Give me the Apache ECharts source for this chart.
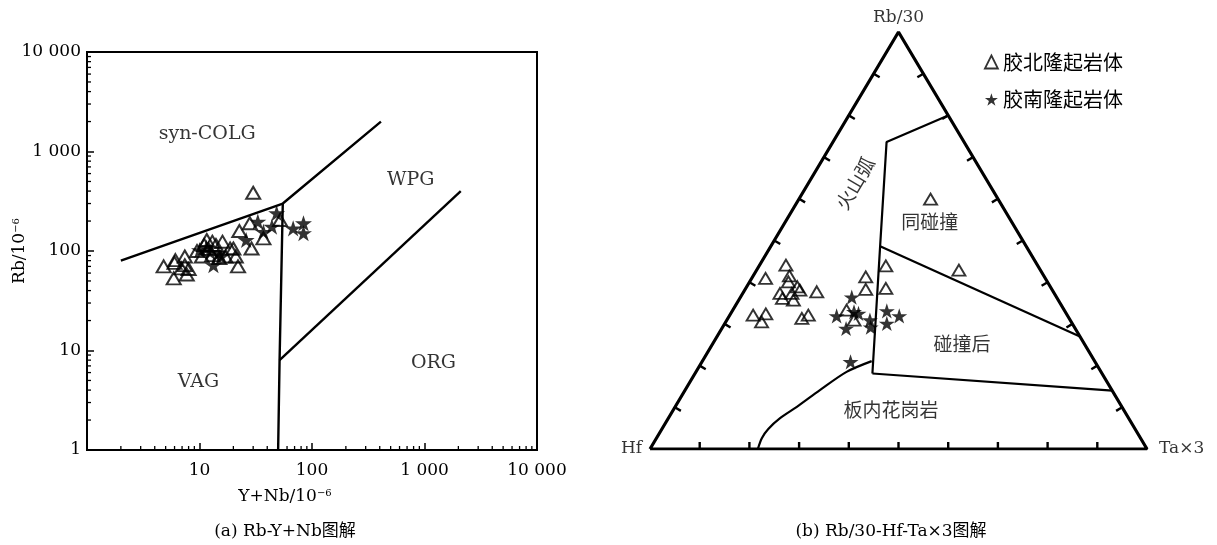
<!DOCTYPE html>
<html><head><meta charset="utf-8">
<script src="https://cdn.jsdelivr.net/npm/echarts@6/dist/echarts.min.js"></script>
<style>html,body{margin:0;padding:0;background:#fff}#c{width:1217px;height:545px}</style>
</head><body><div id="c"></div>
<script>
// ===== Panel (a): Rb vs (Y+Nb), ppm =====
// [Y+Nb, Rb]
const jbA = [[30,385],[28,190],[22.6,159],[29,106],[37,134],[52,205],[22,70],[17,88],[21,88],[20,106],
  [16,124],[13,124],[11,115],[14,115],[10.5,88],[13,91],[15,85],[4.8,70],[6,76],[7.4,72],
  [5.9,53],[7.7,58],[6.1,81],[7.4,88],[6.9,67],[8,66],[18.7,106],[11.6,129],[9.5,100],[12,105]];
const jnA = [[48.5,240],[33,197],[37,156],[44,176],[26,129],[68,169],[84,190],[84,151],
  [10,102],[12.4,98],[14.7,95],[13.3,72],[11.5,108],[15.5,88]];
const aLineColg = [[2,80],[55,300],[410,2000]];
const aLineVert = [[55,300],[51.5,8],[50,1]];
const aLineOrg = [[51.5,8],[2100,400]];
const aRegions = [['syn-COLG',11.7,1500],['WPG',755,520],['VAG',9.8,4.8],['ORG',1200,7.5]];
const aMinorTicks = [2,3,4,5,6,7,8,9,20,30,40,50,60,70,80,90,200,300,400,500,600,700,800,900,2000,3000,4000,5000,6000,7000,8000,9000];

// ===== Panel (b): Rb/30 - Hf - Ta×3 ternary, % [Hf, Ta×3, Rb/30] =====
const jbB = [[50.6,5.3,44.1],[56.3,2.8,40.9],[51.2,7.3,41.5],[52.1,7.8,40.1],[50.9,10.2,38.9],[50.8,11.1,38.1],
  [55.2,7.5,37.3],[55.3,8.6,36.1],[52.8,9.9,37.3],[53.3,11.0,35.7],[47.6,14.7,37.7],[63.2,4.7,32.1],
  [60.5,7.1,32.4],[62.3,7.2,30.5],[53.8,14.9,31.3],[52.1,15.8,32.1],[36.0,22.8,41.3],[37.5,24.3,38.3],
  [43.8,22.9,33.3],[43.5,25.6,30.9],[30.6,25.5,43.9],[33.3,28.2,38.5],[16.4,40.7,42.9],[13.6,26.5,59.9]];
const jnB = [[41.2,22.4,36.4],[46.5,21.6,31.9],[42.5,24.6,32.9],[41.8,25.7,32.5],[46.1,25.0,28.9],[40.3,28.8,30.9],
  [41.0,29.8,29.2],[35.8,31.1,33.1],[37.3,32.6,30.1],[33.9,34.2,31.9],[49.2,29.9,20.9]];
const bLineArc = [[0,20,80],[15.6,10.8,73.6],[29.4,22,48.6],[46.2,35.7,18.1]];
const bLinePost = [[29.4,22,48.6],[0,73,27]];
const bLineWpg = [[46.2,35.7,18.1],[0,86,14]];
const bLineCurve = [[44.9,34.1,21.1],[51.2,30.3,18.5],[58.7,27.1,14.1],[65.4,24.5,10.1],[70.2,22.5,7.4],[73.8,21.4,4.8],[76.2,21.2,2.6],[78.3,21.7,0]];
const bRegions = [['火山弧',26.9,9.4,63.7,59.5],['同碰撞',16.5,29.1,54.4,0],['碰撞后',24.6,50.2,25.2,0],['板内花岗岩',46.8,43.8,9.4,0]];
const bTickFracs = [0.1,0.2,0.3,0.4,0.5,0.6,0.7,0.8,0.9];
const bVertices = [['Hf',100,0,0,'left',8],['Ta×3',0,100,0,'right',12],['Rb/30',0,0,100,'top',6]];
const seriesNames = ['胶北隆起岩体','胶南隆起岩体'];

const STAR = 'path://M0,-10L2.245,-3.09L9.511,-3.09L3.633,1.18L5.878,8.09L0,3.82L-5.878,8.09L-3.633,1.18L-9.511,-3.09L-2.245,-3.09Z';
const SERIF = '"DejaVu Serif", "Noto Sans CJK SC", serif';
const CJK = '"Noto Sans CJK SC", sans-serif';
const INK = '#000';

function tern(p){ const s=p[0]+p[1]+p[2]; const ta=p[1]/s, rb=p[2]/s; return [ta+rb/2, rb]; }
function fmtNum(v){ return String(v).replace(/\B(?=(\d{3})+(?!\d))/g,' '); }

const chart = echarts.init(document.getElementById('c'), null, {renderer:'canvas'});

const blackLine = (data, xi, w) => ({type:'line', xAxisIndex:xi, yAxisIndex:xi, data, symbol:'none', silent:true,
  lineStyle:{color:'#000', width:w}, z:3});

const tickData = [];
[0,1,2].forEach(e => bTickFracs.forEach(t => tickData.push([t, e])));

const option = {
  animation:false,
  backgroundColor:'#fff',
  grid:[
    {left:87, top:52, width:450, height:398, show:true, borderColor:'#000', borderWidth:2, backgroundColor:'transparent'},
    {left:650, top:32, width:497, height:417, show:false}
  ],
  xAxis:[
    {type:'log', gridIndex:0, logBase:10, min:1, max:10000,
      axisLine:{show:true, lineStyle:{color:'#000', width:2}},
      axisTick:{show:true, inside:true, length:7, lineStyle:{color:'#000', width:1.5}},
      splitLine:{show:false},
      axisLabel:{fontFamily:SERIF, fontSize:17, color:INK, margin:12, formatter:v => v===1 ? '' : fmtNum(v)},
      name:'Y+Nb/10{s|−6}', nameLocation:'middle', nameGap:38, nameMoveOverlap:false,
      nameTextStyle:{fontFamily:SERIF, fontSize:17, color:INK, padding:[0,54,0,0],
        rich:{s:{fontFamily:SERIF, fontSize:10, color:INK, verticalAlign:'top', padding:[0,0,6,0]}}}},
    {type:'value', gridIndex:1, min:0, max:1, show:false}
  ],
  yAxis:[
    {type:'log', gridIndex:0, logBase:10, min:1, max:10000,
      axisLine:{show:true, lineStyle:{color:'#000', width:2}},
      axisTick:{show:true, inside:true, length:7, lineStyle:{color:'#000', width:1.5}},
      splitLine:{show:false},
      axisLabel:{fontFamily:SERIF, fontSize:17, color:INK, margin:6, formatter:v => fmtNum(v)},
      name:'Rb/10{s|−6}', nameLocation:'middle', nameGap:59, nameMoveOverlap:false,
      nameTextStyle:{fontFamily:SERIF, fontSize:17, color:INK,
        rich:{s:{fontFamily:SERIF, fontSize:10, color:INK, verticalAlign:'top', padding:[0,0,6,0]}}}},
    {type:'value', gridIndex:1, min:0, max:1, show:false}
  ],
  legend:{
    orient:'vertical', left:979, top:47, itemWidth:13, itemHeight:13, itemGap:17.5, selectedMode:false,
    textStyle:{fontFamily:CJK, fontSize:20, color:INK},
    data:[
      {name:seriesNames[0], icon:'triangle', itemStyle:{color:'rgba(0,0,0,0)', borderColor:'#000', borderWidth:1.8}},
      {name:seriesNames[1], icon:STAR, itemStyle:{color:'#000', borderWidth:0}}
    ]
  },
  graphic:[
    {type:'text', x:285, y:532, silent:true, style:{text:'(a) Rb-Y+Nb图解', font:'17px '+SERIF, fill:INK, align:'center', verticalAlign:'middle'}},
    {type:'text', x:891, y:532, silent:true, style:{text:'(b) Rb/30-Hf-Ta×3图解', font:'17px '+SERIF, fill:INK, align:'center', verticalAlign:'middle'}}
  ],
  series:[
    // ---- panel (a) ----
    {type:'custom', xAxisIndex:0, yAxisIndex:0, silent:true, data:aMinorTicks.map(v=>[v,v]), z:4,
      renderItem:(params, api) => {
        const v = api.value(0);
        const bx = api.coord([v, 1]);
        const ly = api.coord([1, v]);
        return {type:'group', children:[
          {type:'line', shape:{x1:bx[0], y1:bx[1], x2:bx[0], y2:bx[1]-4}, style:{stroke:'#000', lineWidth:1.3}},
          {type:'line', shape:{x1:ly[0], y1:ly[1], x2:ly[0]+4, y2:ly[1]}, style:{stroke:'#000', lineWidth:1.3}}
        ]};
      }},
    blackLine(aLineColg, 0, 2.4),
    blackLine(aLineVert, 0, 2.4),
    blackLine(aLineOrg, 0, 2.4),
    {type:'scatter', name:seriesNames[0], xAxisIndex:0, yAxisIndex:0, data:jbA, symbol:'triangle', symbolSize:[14,12],
      itemStyle:{color:'rgba(0,0,0,0)', borderColor:'#000', borderWidth:2}, z:5, silent:true},
    {type:'scatter', name:seriesNames[1], xAxisIndex:0, yAxisIndex:0, data:jnA, symbol:STAR, symbolSize:17, symbolKeepAspect:true,
      itemStyle:{color:'#000'}, z:6, silent:true},
    {type:'scatter', xAxisIndex:0, yAxisIndex:0, symbolSize:0, silent:true, z:7,
      data:aRegions.map(r => ({name:r[0], value:[r[1], r[2]]})),
      label:{show:true, position:'inside', formatter:'{b}', fontFamily:SERIF, fontSize:19, color:INK}},
    // ---- panel (b) ----
    blackLine([bVertices[0], bVertices[1], bVertices[2], bVertices[0]].map(v => tern([v[1],v[2],v[3]])), 1, 3.2),
    {type:'custom', xAxisIndex:1, yAxisIndex:1, silent:true, data:tickData, z:4,
      renderItem:(params, api) => {
        const t = api.value(0), e = api.value(1);
        const A = api.coord(tern([100,0,0])), B = api.coord(tern([0,100,0])), C = api.coord(tern([0,0,100]));
        let P, Q, R;
        if (e === 0) { P=A; Q=B; R=C; } else if (e === 1) { P=A; Q=C; R=B; } else { P=B; Q=C; R=A; }
        const x = P[0] + (Q[0]-P[0])*t, y = P[1] + (Q[1]-P[1])*t;
        const dx = Q[0]-P[0], dy = Q[1]-P[1], L = Math.hypot(dx, dy);
        let nx = -dy/L, ny = dx/L;
        if ((R[0]-x)*nx + (R[1]-y)*ny < 0) { nx = -nx; ny = -ny; }
        return {type:'line', shape:{x1:x, y1:y, x2:x+nx*7, y2:y+ny*7}, style:{stroke:'#000', lineWidth:2.4}};
      }},
    blackLine(bLineArc.map(tern), 1, 2.2),
    blackLine(bLinePost.map(tern), 1, 2.2),
    blackLine(bLineWpg.map(tern), 1, 2.2),
    Object.assign(blackLine(bLineCurve.map(tern), 1, 2.2), {smooth:0.3}),
    {type:'scatter', name:seriesNames[0], xAxisIndex:1, yAxisIndex:1, data:jbB.map(tern), symbol:'triangle', symbolSize:[13,11],
      itemStyle:{color:'rgba(0,0,0,0)', borderColor:'#000', borderWidth:1.9}, z:5, silent:true},
    {type:'scatter', name:seriesNames[1], xAxisIndex:1, yAxisIndex:1, data:jnB.map(tern), symbol:STAR, symbolSize:16, symbolKeepAspect:true,
      itemStyle:{color:'#000'}, z:6, silent:true},
    {type:'scatter', xAxisIndex:1, yAxisIndex:1, symbolSize:0, silent:true, z:7,
      data:bRegions.map(r => ({name:r[0], value:tern([r[1],r[2],r[3]]), label:{rotate:r[4]}})),
      label:{show:true, position:'inside', formatter:'{b}', fontFamily:CJK, fontSize:19, color:INK}},
    {type:'scatter', xAxisIndex:1, yAxisIndex:1, symbolSize:0, silent:true, z:7,
      data:bVertices.map(v => ({name:v[0], value:tern([v[1],v[2],v[3]]), label:{position:v[4], distance:v[5]}})),
      label:{show:true, formatter:'{b}', fontFamily:SERIF, fontSize:17, color:INK}}
  ]
};
chart.setOption(option);
</script>
</body></html>
